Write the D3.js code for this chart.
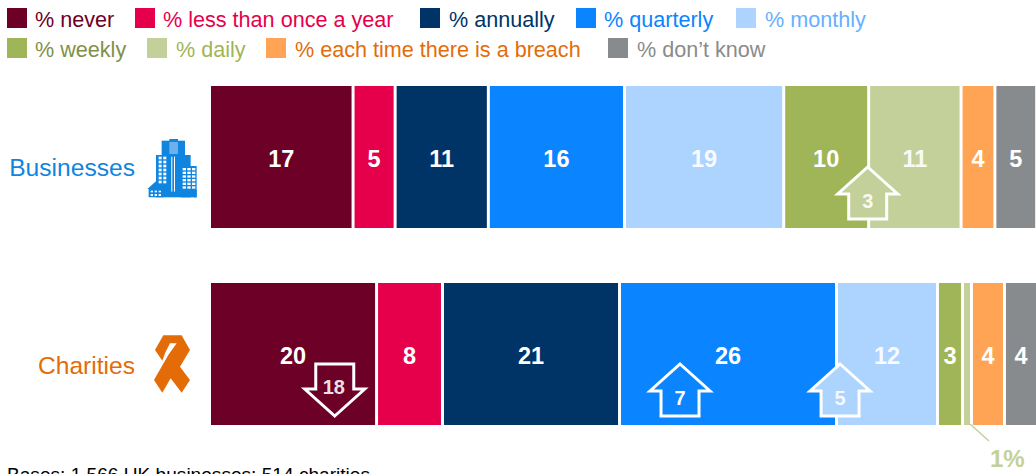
<!DOCTYPE html>
<html><head><meta charset="utf-8">
<script src="https://cdnjs.cloudflare.com/ajax/libs/d3/7.8.5/d3.min.js"></script>
<style>html,body{margin:0;padding:0;background:#fff;overflow:hidden}svg{display:block;font-family:"Liberation Sans",Arial,sans-serif}</style>
</head><body><svg id="c" width="1036" height="474"></svg>
<script>
const categories = ["Businesses", "Charities"];
const seriesNames = ["% never","% less than once a year","% annually","% quarterly","% monthly","% weekly","% daily","% each time there is a breach","% don\u2019t know"];
const businessValues = [17.4,5.1,11.3,16.5,19.3,10.3,11.2,4.1,4.7];
const charityValues = [20.25,7.99,21.46,26.3,12.24,3.03,1.09,4.0,3.64];
const businessLabels = ["17","5","11","16","19","10","11","4","5"];
const charityLabels = ["20","8","21","26","12","3","","4","4"];
const fills = ["#6d0026","#e6004c","#003366","#0a84ff","#add4ff","#9fb557","#c4d09a","#ffa354","#888b8d"];
const textColors = ["#6d0026","#e6004c","#003366","#0a84ff","#66b0ff","#7f9149","#9fb557","#e36c0a","#8b8b8b"];
const legendRows = [[0,1,2,3,4],[5,6,7,8]];
const legendSwatchX = [7,135,420,576,736,7,147,266,608];
const legendTextX = [35,163,449,604,765,35,176,295,637];
const arrows = [
  {cat:"Businesses",at:79.6,dir:"up",label:"3",fill:"#c4d09a"},
  {cat:"Charities",at:15.0,dir:"down",label:"18",fill:"#6d0026"},
  {cat:"Charities",at:56.85,dir:"up",label:"7",fill:"#0a84ff"},
  {cat:"Charities",at:76.25,dir:"up",label:"5",fill:"#add4ff"}
];
const svg = d3.select("#c");
const x = d3.scaleLinear().domain([0,100]).range([211,1036]);
const y = d3.scaleBand().domain(categories).range([86,425]).paddingInner(55/197).paddingOuter(0);
const rows = [businessValues, charityValues];
const labels = [businessLabels, charityLabels];

// legend
seriesNames.forEach((n,i)=>{
  const row = legendRows[0].includes(i)?0:1;
  const sy = 8+row*30;
  svg.append("rect").attr("x",legendSwatchX[i]).attr("y",sy).attr("width",20).attr("height",20).attr("fill",fills[i]);
  svg.append("text").attr("x",legendTextX[i]).attr("y",sy+18.5).attr("font-size",21.6).attr("fill",textColors[i]).text(n);
});

// bars
categories.forEach((c,r)=>{
  let cum=0;
  rows[r].forEach((v,i)=>{
    const x0=x(cum), x1=x(cum+v);
    svg.append("rect").attr("x",x0).attr("y",y(c)).attr("width",Math.max(0,x1-x0-(i===8?0:3))).attr("height",y.bandwidth()).attr("fill",fills[i]);
    if(labels[r][i]) svg.append("text").attr("x",(x0+x1-(i===8?0:3))/2).attr("y",y(c)+81).attr("text-anchor","middle")
      .attr("font-size",23.5).attr("font-weight","bold").attr("fill","#fff").attr("fill-opacity",i===4||i===6?0.92:1).text(labels[r][i]);
    cum+=v;
  });
});

// arrows
const arrowShape = d3.line();
arrows.forEach(a=>{
  const cx=x(a.at), top=y(a.cat)+81;
  const s=a.dir==="up"?1:-1;
  const tip=a.dir==="up"?top:top+52, wing=tip+s*27, end=tip+s*52;
  const pts=[[cx,tip],[cx+30,wing],[cx+19,wing],[cx+19,end],[cx-19,end],[cx-19,wing],[cx-30,wing]];
  svg.append("path").attr("d",arrowShape(pts)+"Z").attr("fill",a.fill).attr("stroke","#fff").attr("stroke-width",3);
  svg.append("text").attr("x",a.label==="18"?cx-1:cx).attr("y",a.dir==="up"?top+41:top+30).attr("text-anchor","middle")
    .attr("font-size",20).attr("font-weight","bold").attr("fill","#fff").attr("fill-opacity",a.label==="7"?1:0.9).text(a.label);
});

// callout
svg.append("line").attr("x1",970).attr("y1",424).attr("x2",989).attr("y2",441).attr("stroke","#c4d09a").attr("stroke-width",1.5);
svg.append("text").attr("x",990).attr("y",467).attr("font-size",24).attr("font-weight","bold").attr("fill","#c4d09a").text("1%");

// category labels
svg.append("text").attr("x",135).attr("y",176).attr("text-anchor","end").attr("font-size",24.6).attr("fill","#0f85e0").text(categories[0]);
svg.append("text").attr("x",135).attr("y",374).attr("text-anchor","end").attr("font-size",24.6).attr("fill","#e36c09").text(categories[1]);

// building icon
const blue="#0f85e0";
const b=svg.append("g").attr("transform","translate(0,120) scale(0.3333)");
const R=(x0,y0,w,h,f)=>b.append("rect").attr("x",x0).attr("y",y0).attr("width",w).attr("height",h).attr("fill",f);
R(485,62,70,43,blue);R(508,57,26,6,blue);R(508,66,26,36,"#6db0ec");
R(468,105,104,127,blue);R(542,138,48,94,blue);R(582,210,8,22,blue);
b.append("path").attr("d","M442 207L468 184L490 200V232H446V207Z").attr("fill",blue);
for(let i=0;i<7;i++){for(const xx of [476,490]) R(xx,110+i*12,9,8,"#fff");}
R(514,110,3,105,"#fff");R(522,110,3,105,"#fff");
for(let i=0;i<6;i++){for(let j=0;j<3;j++) R(548+j*14,144+i*11,10,7,"#fff");}
for(let j=0;j<3;j++){R(452+j*12,222,7,6,"#fff");R(452+j*12,212,7,5,"#fff");}

// ribbon icon
svg.append("path").attr("transform","translate(0,320) scale(0.3333)")
  .attr("d","M490 46L545 46L570 90L540 140L570 180L545 218L512 175L487 218L462 180L505 105L530 70L510 70L495 100L487 122L465 90Z").attr("fill","#e36c09");

// footnote
svg.append("text").attr("x",7).attr("y",481).attr("font-size",19.1).attr("fill","#000").text("Bases: 1,566 UK businesses; 514 charities");
</script></body></html>
